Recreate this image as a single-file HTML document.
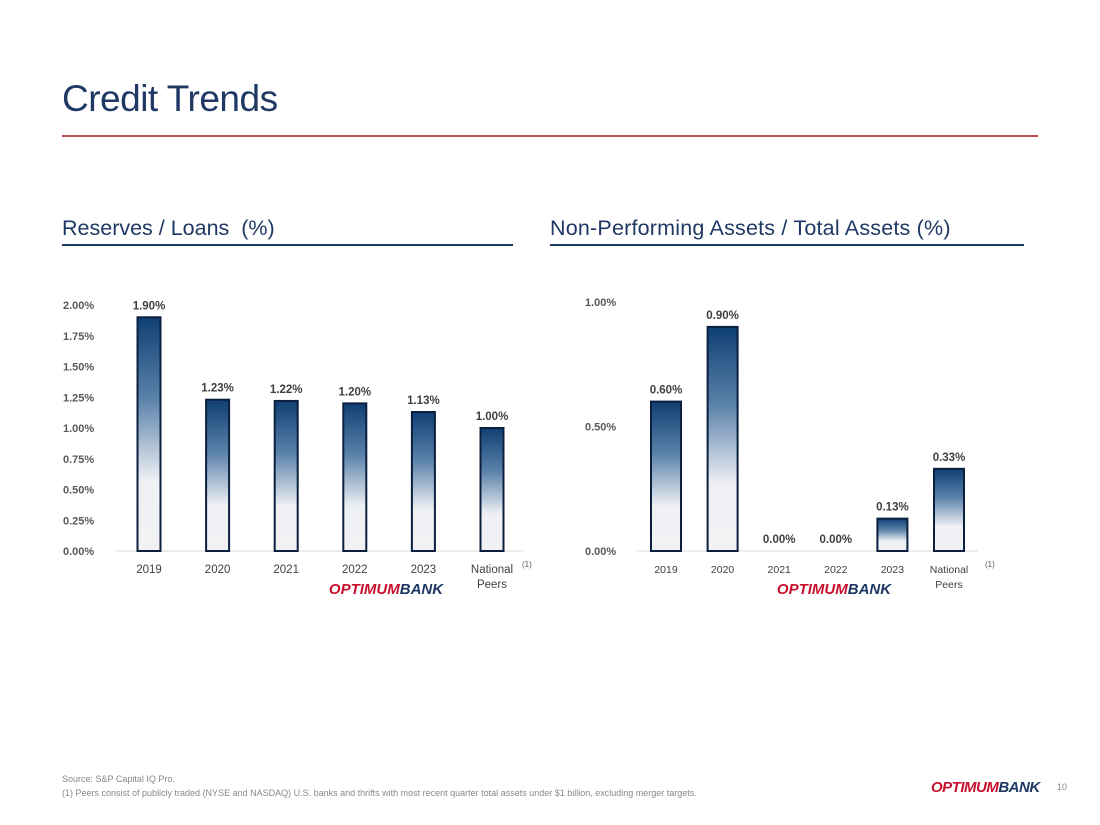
<!DOCTYPE html>
<html><head><meta charset="utf-8"><style>
body{margin:0;width:1100px;height:825px;background:#fff;font-family:"Liberation Sans",sans-serif;position:relative;overflow:hidden}
.abs{position:absolute}
.t{font-size:37px;color:#1f3864;left:62px;top:78px;letter-spacing:-0.5px}
.h{font-size:21.5px;color:#1f3864;top:216px}
.logo{font-style:italic;font-weight:bold;letter-spacing:-0.5px}
.logo .o{color:#c8102e}.logo .b{color:#1f3864}
</style></head><body>
<div class="abs t">Credit Trends</div>
<div class="abs" style="left:62px;top:135px;width:976px;height:2px;background:#c0504d"></div>
<div class="abs h" style="left:62px">Reserves / Loans&nbsp; (%)</div>
<div class="abs" style="left:62px;top:244px;width:451px;height:2px;background:#1f3864"></div>
<div class="abs h" style="left:550px;letter-spacing:0.2px">Non-Performing Assets / Total Assets (%)</div>
<div class="abs" style="left:550px;top:244px;width:474px;height:2px;background:#1f3864"></div>
<svg id="chart" class="abs" style="left:0;top:0" width="1100" height="825">
<defs><linearGradient id="g" x1="0" y1="0" x2="0" y2="1"><stop offset="0" stop-color="#0f3f73"/><stop offset="0.35" stop-color="#5b82aa"/><stop offset="0.7" stop-color="#eef0f4"/><stop offset="1" stop-color="#f2f2f4"/></linearGradient></defs>
</svg>
<div class="abs" style="left:62px;top:772px;font-size:9px;color:#888;line-height:14px">Source: S&amp;P Capital IQ Pro.<br>(1) Peers consist of publicly traded (NYSE and NASDAQ) U.S. banks and thrifts with most recent quarter total assets under $1 billion, excluding merger targets.</div>
<div class="abs logo" style="left:931px;top:779px;font-size:15px"><span class="o">OPTIMUM</span><span class="b">BANK</span></div>
<div class="abs" style="left:1057px;top:782px;font-size:9px;color:#888">10</div>
<script>
const categories=["2019","2020","2021","2022","2023","National|Peers"];
const reservesValues=[1.90,1.23,1.22,1.20,1.13,1.00];
const reservesTicks=[0,0.25,0.5,0.75,1,1.25,1.5,1.75,2];
const npaValues=[0.60,0.90,0.00,0.00,0.13,0.33];
const npaTicks=[0,0.5,1];
const svg=document.getElementById('chart');
const NS='http://www.w3.org/2000/svg';
function mk(t,a,txt){const e=document.createElementNS(NS,t);for(const k in a)e.setAttribute(k,a[k]);if(txt!=null)e.textContent=txt;svg.appendChild(e);return e;}
function draw(cfg,vals,ticks,name){
 const y=v=>cfg.y0-v*cfg.ppu;
 const x=i=>cfg.x0+i*cfg.step;
 ticks.forEach(t=>{const e=mk('text',{x:cfg.tickX,y:y(t)+4,'font-size':11,fill:'#595959','font-weight':'bold'},t.toFixed(2)+'%');
  
  });
 const ax=mk('line',{x1:cfg.axL,x2:cfg.axR,y1:cfg.y0,y2:cfg.y0,stroke:'#d9d9d9','stroke-width':1});
 
 
 vals.forEach((v,i)=>{
  const h=v*cfg.ppu;
  if(h>0){const r=mk('rect',{x:x(i)-cfg.w/2,y:y(v),width:cfg.w,height:h,fill:'url(#g)',stroke:'#0b1f3f','stroke-width':2});
   
   }
  const l=mk('text',{x:x(i),y:y(v)-8,'font-size':11.5,fill:'#404040','font-weight':'bold','text-anchor':'middle'},v.toFixed(2)+'%');
  
  
  const parts=categories[i].split('|');
  parts.forEach((p,j)=>{const c=mk('text',{x:x(i),y:cfg.y0+22+j*15,'font-size':cfg.cf,fill:'#404040','text-anchor':'middle'},p);
   
   });
 });
 const fn=mk('text',{x:cfg.fnX,y:cfg.y0+16,'font-size':8,fill:'#555'},'(1)');
 
 
 const lo=mk('text',{x:cfg.logoX,y:cfg.y0+43,'font-size':15,'font-style':'italic','font-weight':'bold','text-anchor':'middle'});
 
 
 const a=document.createElementNS(NS,'tspan');a.setAttribute('fill','#c8102e');a.textContent='OPTIMUM';lo.appendChild(a);
 const b=document.createElementNS(NS,'tspan');b.setAttribute('fill','#1f3864');b.textContent='BANK';lo.appendChild(b);
}
draw({y0:551,ppu:123,x0:149,step:68.6,w:23,tickX:63,axL:116,axR:523,cf:11.5,fnX:522,logoX:386},reservesValues,reservesTicks,'reserves');
draw({y0:551,ppu:249,x0:666,step:56.6,w:30,tickX:585,axL:637,axR:978,cf:10.5,fnX:985,logoX:834},npaValues,npaTicks,'npa');
</script>
</body></html>
